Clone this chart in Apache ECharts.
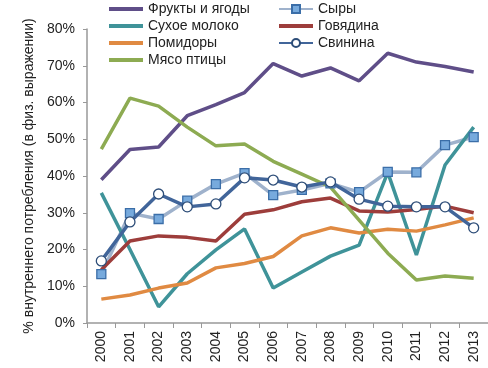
<!DOCTYPE html>
<html>
<head>
<meta charset="utf-8">
<script src="https://cdn.jsdelivr.net/npm/echarts@6/dist/echarts.min.js"></script>
<style>html,body{margin:0;padding:0;background:#fff;}#c{width:488px;height:368px;}</style>
</head>
<body>
<div id="c"></div>
<script>
const years = ['2000','2001','2002','2003','2004','2005','2006','2007','2008','2009','2010','2011','2012','2013'];
const fruits  = [39.0, 47.2, 47.9, 56.4, 59.4, 62.7, 70.6, 67.2, 69.4, 65.9, 73.4, 71.0, 69.8, 68.3];
const cheese  = [13.3, 29.9, 28.3, 33.3, 37.8, 40.8, 34.8, 36.2, 38.0, 35.6, 41.1, 41.0, 48.4, 50.6];
const milk    = [35.4, 20.0, 4.4, 13.4, 19.9, 25.6, 9.5, 13.9, 18.2, 21.2, 41.0, 18.5, 43.0, 53.3];
const beef    = [14.5, 22.3, 23.7, 23.3, 22.3, 29.6, 30.8, 33.0, 34.0, 30.5, 30.2, 30.9, 31.8, 30.0];
const tomato  = [6.5, 7.6, 9.5, 10.9, 15.0, 16.2, 18.1, 23.7, 25.9, 24.5, 25.5, 25.0, 26.7, 28.6];
const pork    = [16.9, 27.5, 35.1, 31.6, 32.4, 39.5, 38.9, 37.0, 38.4, 33.7, 31.8, 31.6, 31.6, 25.9];
const poultry = [47.3, 61.2, 59.0, 53.3, 48.2, 48.7, 44.0, 40.5, 37.0, 28.0, 19.0, 11.7, 12.8, 12.2];
const yTicks = [0, 10, 20, 30, 40, 50, 60, 70, 80];

const names = ['Фрукты и ягоды','Сыры','Сухое молоко','Говядина','Помидоры','Свинина','Мясо птицы'];
const FONT = 'Liberation Sans, Arial, sans-serif';
const chart = echarts.init(document.getElementById('c'), null, {renderer:'canvas'});

function plain(name, data, color){
  return {name, type:'line', data, symbol:'none', showSymbol:false,
    lineStyle:{color, width:3.5}, itemStyle:{color}, animation:false, z:2};
}
const series = [
  plain(names[0], fruits, '#5f4e88'),
  {name:names[1], type:'line', data:cheese, symbol:'rect', symbolSize:9,
    lineStyle:{color:'#9fb2cc', width:3.5},
    itemStyle:{color:'#77aadd', borderColor:'#3b6ea8', borderWidth:1.3}, animation:false, z:2},
  plain(names[2], milk, '#3f9399'),
  plain(names[3], beef, '#9d3d3b'),
  plain(names[4], tomato, '#e08a42'),
  {name:names[5], type:'line', data:pork, symbol:'circle', symbolSize:10,
    lineStyle:{color:'#41659a', width:3.5},
    itemStyle:{color:'#ffffff', borderColor:'#2d4d78', borderWidth:1.3}, animation:false, z:3},
  plain(names[6], poultry, '#8dab52')
];

const LINE_ICON = 'path://M0,0 L34,0 L34,4 L0,4 Z';
const legendBase = {orient:'vertical', top:2, padding:0, itemWidth:34, itemHeight:14, itemGap:3,
  symbolKeepAspect:true,
  textStyle:{fontFamily:FONT, fontSize:14, color:'#222'}, selectedMode:false};

chart.setOption({
  animation:false,
  backgroundColor:'#ffffff',
  textStyle:{fontFamily:FONT},
  legend:[
    Object.assign({}, legendBase, {left:109, data:[
      {name:names[0], icon:LINE_ICON},
      {name:names[2], icon:LINE_ICON},
      {name:names[4], icon:LINE_ICON},
      {name:names[6], icon:LINE_ICON}]}),
    Object.assign({}, legendBase, {left:278, top:2, itemHeight:10, itemGap:3, data:[
      {name:names[1]},
      {name:names[3], icon:LINE_ICON},
      {name:names[5]}]})
  ],
  grid:{left:87, top:29, width:405, height:294, containLabel:false},
  xAxis:{type:'category', data:years, boundaryGap:true,
    axisLine:{lineStyle:{color:'#999', width:1.5}},
    axisTick:{show:true, length:5, lineStyle:{color:'#999'}},
    axisLabel:{rotate:90, fontSize:14, color:'#222', fontFamily:FONT, margin:8}},
  yAxis:{type:'value', min:yTicks[0], max:yTicks[yTicks.length-1], interval:10,
    name:'% внутреннего потребления (в физ. выражении)', nameLocation:'middle', nameRotate:90, nameGap:50,
    nameTextStyle:{fontSize:14, color:'#222', fontFamily:FONT},
    axisLine:{show:true, lineStyle:{color:'#999', width:1.5}},
    axisTick:{show:true, inside:false, length:4, lineStyle:{color:'#999'}},
    splitLine:{show:false},
    axisLabel:{formatter:'{value}%', fontSize:14, color:'#222', fontFamily:FONT, margin:12}},
  series
});
</script>
</body>
</html>
